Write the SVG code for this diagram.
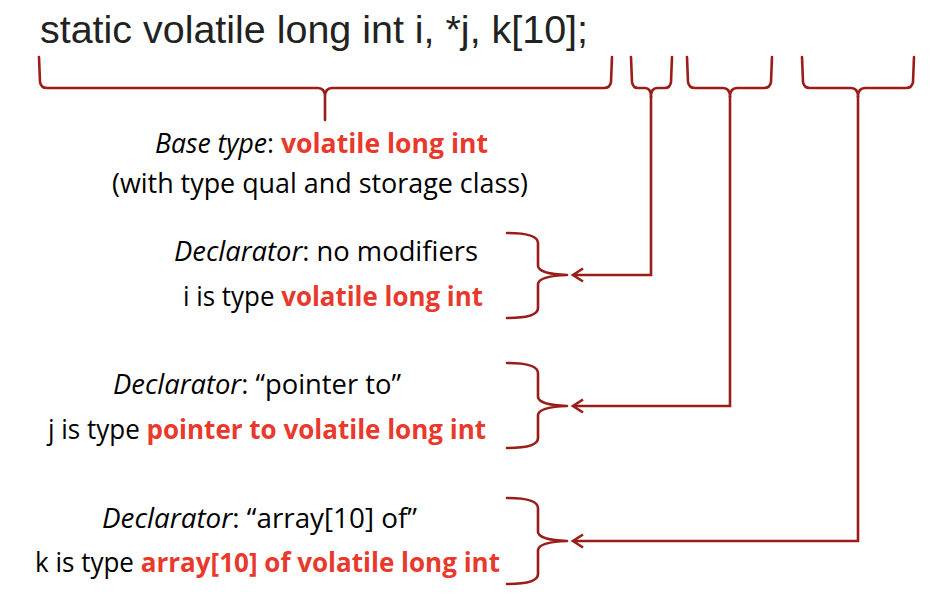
<svg xmlns="http://www.w3.org/2000/svg" width="930" height="600" viewBox="0 0 930 600">
<style>
.title{font-family:"Liberation Sans",Arial,sans-serif;font-size:38px;fill:#222}
.t{font-family:"Open Sans","Noto Sans",sans-serif;font-size:26.5px;fill:#000}
.i{font-style:italic}
.r{font-weight:bold;fill:#E8392C}
.br{fill:none;stroke:#9A1D1A;stroke-width:2.6;stroke-linejoin:round;stroke-linecap:round}
.cn{fill:none;stroke:#9A1D1A;stroke-width:2.6;stroke-linejoin:miter}
</style>
<defs>
<marker id="ah" markerUnits="userSpaceOnUse" markerWidth="20" markerHeight="20" viewBox="-12 -10 14 20" refX="0" refY="0" orient="auto">
<path d="M-10,-6.5 L0,0 L-10,6.5" fill="none" stroke="#9A1D1A" stroke-width="2.6" stroke-linejoin="miter"/>
</marker>
</defs>
<rect width="930" height="600" fill="#fff"/>
<g id="title">
<text class="title" x="40" y="43" textLength="548" lengthAdjust="spacingAndGlyphs">static volatile long int i, *j, k[10];</text>
</g>
<g id="top-braces">
<path class="br" d="M39,57 L40,82 Q41,88 47,88 L318,88 Q325,88 325,97 L325,120 M325,97 Q325,88 332,88 L604,88 Q610,88 611,82 L612,57"/>
<path class="br" d="M631,57 L632,82 Q633,88 638,88 L645,88 Q651,88 651,97 M651,97 Q651,88 657,88 L665,88 Q670,88 671,82 L672,57"/>
<path class="br" d="M687,57 L688,82 Q689,88 695,88 L723,88 Q730,88 730,97 M730,97 Q730,88 737,88 L764,88 Q770,88 771,82 L772,57"/>
<path class="br" d="M802,57 L803,82 Q804,88 810,88 L851,88 Q858,88 858,97 M858,97 Q858,88 865,88 L906,88 Q912,88 913,82 L914,57"/>
</g>
<g id="base-type">
<text class="t" x="155" y="153" textLength="333" lengthAdjust="spacingAndGlyphs"><tspan class="i">Base type</tspan>: <tspan class="r">volatile long int</tspan></text>
<text class="t" x="112" y="193" textLength="416" lengthAdjust="spacingAndGlyphs">(with type qual and storage class)</text>
</g>
<g id="decl-i">
<text class="t" x="174" y="261" textLength="304" lengthAdjust="spacingAndGlyphs"><tspan class="i">Declarator</tspan>: no modifiers</text>
<text class="t" x="183" y="306" textLength="300" lengthAdjust="spacingAndGlyphs">i is type <tspan class="r">volatile long int</tspan></text>
<path class="br" d="M507,233 Q538,233 538,243 L538,266 Q539,274 567,275 Q539,276 538,284 L538,308 Q538,318 507,318"/>
</g>
<g id="decl-j">
<text class="t" x="113" y="394" textLength="288" lengthAdjust="spacingAndGlyphs"><tspan class="i">Declarator</tspan>: “pointer to”</text>
<text class="t" x="48" y="439" textLength="438" lengthAdjust="spacingAndGlyphs">j is type <tspan class="r">pointer to volatile long int</tspan></text>
<path class="br" d="M507,363 Q538,363 538,373 L538,397 Q539,405 567,406 Q539,407 538,415 L538,438 Q538,448 507,448"/>
</g>
<g id="decl-k">
<text class="t" x="102" y="528" textLength="315" lengthAdjust="spacingAndGlyphs"><tspan class="i">Declarator</tspan>: “array[10] of”</text>
<text class="t" x="35" y="572" textLength="465" lengthAdjust="spacingAndGlyphs">k is type <tspan class="r">array[10] of volatile long int</tspan></text>
<path class="br" d="M507,498 Q538,498 538,508 L538,532 Q539,540 567,541 Q539,542 538,550 L538,574 Q538,584 507,584"/>
</g>
<g id="connectors">
<path class="cn" d="M651,96 L651,275 L573,275" marker-end="url(#ah)"/>
<path class="cn" d="M730,96 L730,406 L573,406" marker-end="url(#ah)"/>
<path class="cn" d="M858,96 L858,541 L573,541" marker-end="url(#ah)"/>
</g>
</svg>
